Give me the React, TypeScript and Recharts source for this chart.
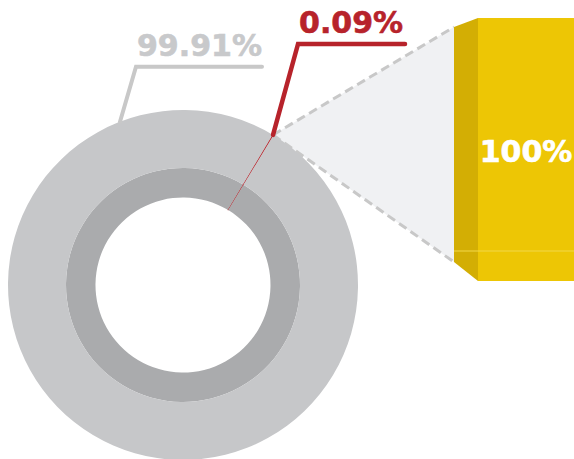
import { Bar, BarChart, Cell, Pie, PieChart, XAxis, YAxis } from 'recharts';

// donut slices
const sliceNames = ['0.09%', '99.91%'];
const sliceValues = [0.09, 99.91];
// exploded bar
const barNames = ['0.09%'];
const barValues = [100];
const barLabels = ['100%'];

const W = 574;
const H = 459;
const CX = 183;
const CY = 285;
const R_HOLE = 87.5;
const R_MID = 117;
const R_OUT = 175;
const START = 59.2;
const GRAY_LABEL_ANGLE = 111.1;
const RADIAN = Math.PI / 180;

const RED = '#b7232b';
const GRAY_LABEL = '#c8c9cb';
const OUTER_COLORS = [RED, '#c6c7c9'];
const INNER_COLORS = [RED, '#aaabad'];
const FONT = '"DejaVu Sans", Verdana, sans-serif';

const pieData = sliceNames.map((name, i) => ({ name, value: sliceValues[i] }));
const barData = barNames.map((name, i) => ({ name, value: barValues[i], label: barLabels[i] }));

const midAngle = START - (sliceValues[0] / (sliceValues[0] + sliceValues[1])) * 180;
const sliceX = CX + R_OUT * Math.cos(-midAngle * RADIAN);
const sliceY = CY + R_OUT * Math.sin(-midAngle * RADIAN);

function renderLabel(props: any) {
    const { cx, cy, outerRadius, index } = props;
    const isRed = index === 0;
    const angle = isRed ? props.midAngle : GRAY_LABEL_ANGLE;
    const sx = cx + outerRadius * Math.cos(-angle * RADIAN);
    const sy = cy + outerRadius * Math.sin(-angle * RADIAN);
    const ex = sx + (isRed ? 25 : 16);
    const ey = sy + (isRed ? -91 : -55);
    const len = isRed ? 107 : 126;
    const color = isRed ? RED : GRAY_LABEL;
    return (
        <g>
            <polyline
                points={`${sx},${sy} ${ex},${ey} ${ex + len},${ey}`}
                fill="none"
                stroke={isRed ? RED : '#c8c8c8'}
                strokeWidth={isRed ? 4.5 : 4}
                strokeLinecap="round"
            />
            <text
                x={ex + 1}
                y={ey - 11}
                fill={color}
                stroke={color}
                strokeWidth={0.6}
                fontFamily={FONT}
                fontWeight="bold"
                fontSize={30}
            >
                {sliceNames[index]}
            </text>
        </g>
    );
}

function BarShape(props: any) {
    const { x, y, width, height, payload } = props;
    const sx = x - 24;
    const sideTop = y + 9;
    const sideBottom = y + height - 19;
    const split = y + height - 30;
    return (
        <g>
            <polygon
                points={`${sliceX},${sliceY} ${sx},${sideTop} ${sx},${sideBottom}`}
                fill="#f0f1f3"
            />
            <line x1={sliceX} y1={sliceY} x2={sx} y2={sideTop} stroke="#c8c8c8" strokeWidth={3} strokeDasharray="9 5" />
            <line x1={sliceX} y1={sliceY} x2={sx} y2={sideBottom} stroke="#c8c8c8" strokeWidth={3} strokeDasharray="9 5" />
            <polygon
                points={`${sx},${sideTop} ${x},${y} ${x},${y + height} ${sx},${sideBottom}`}
                fill="#d3ae04"
            />
            <rect x={x} y={y} width={width} height={height} fill="#edc605" />
            <line x1={sx} y1={split} x2={x + width} y2={split} stroke="#f2d84a" strokeWidth={1} />
            <text
                x={x + width / 2}
                y={y + height / 2 + 12}
                textAnchor="middle"
                fill="#ffffff"
                stroke="#ffffff"
                strokeWidth={0.6}
                fontFamily={FONT}
                fontWeight="bold"
                fontSize={30}
            >
                {payload.label}
            </text>
        </g>
    );
}

export default function App() {
    return (
        <div style={{ position: 'absolute', left: 0, top: 0, width: W, height: H, overflow: 'hidden', background: '#fff' }}>
            <div style={{ position: 'absolute', left: 0, top: 0 }}>
                <BarChart
                    width={W}
                    height={H}
                    data={barData}
                    margin={{ top: 18, right: 0, bottom: 178, left: 478 }}
                    barCategoryGap={0}
                >
                    <XAxis dataKey="name" type="category" hide />
                    <YAxis type="number" domain={[0, 100]} hide />
                    <Bar dataKey="value" shape={BarShape} isAnimationActive={false} />
                </BarChart>
            </div>
            <div style={{ position: 'absolute', left: 0, top: 0 }}>
                <PieChart width={W} height={H} margin={{ top: 0, right: 0, bottom: 0, left: 0 }}>
                    <Pie
                        data={pieData}
                        dataKey="value"
                        cx={CX}
                        cy={CY}
                        innerRadius={R_HOLE}
                        outerRadius={R_MID}
                        startAngle={START}
                        endAngle={START - 360}
                        stroke="none"
                        isAnimationActive={false}
                    >
                        {pieData.map((d, i) => (
                            <Cell
                                key={d.name}
                                fill={INNER_COLORS[i]}
                                stroke={i === 0 ? RED : 'none'}
                                strokeWidth={i === 0 ? 0.8 : 0}
                            />
                        ))}
                    </Pie>
                    <Pie
                        data={pieData}
                        dataKey="value"
                        cx={CX}
                        cy={CY}
                        innerRadius={R_MID}
                        outerRadius={R_OUT}
                        startAngle={START}
                        endAngle={START - 360}
                        stroke="none"
                        label={renderLabel}
                        labelLine={false}
                        isAnimationActive={false}
                    >
                        {pieData.map((d, i) => (
                            <Cell
                                key={d.name}
                                fill={OUTER_COLORS[i]}
                                stroke={i === 0 ? RED : 'none'}
                                strokeWidth={i === 0 ? 0.8 : 0}
                            />
                        ))}
                    </Pie>
                </PieChart>
            </div>
        </div>
    );
}
